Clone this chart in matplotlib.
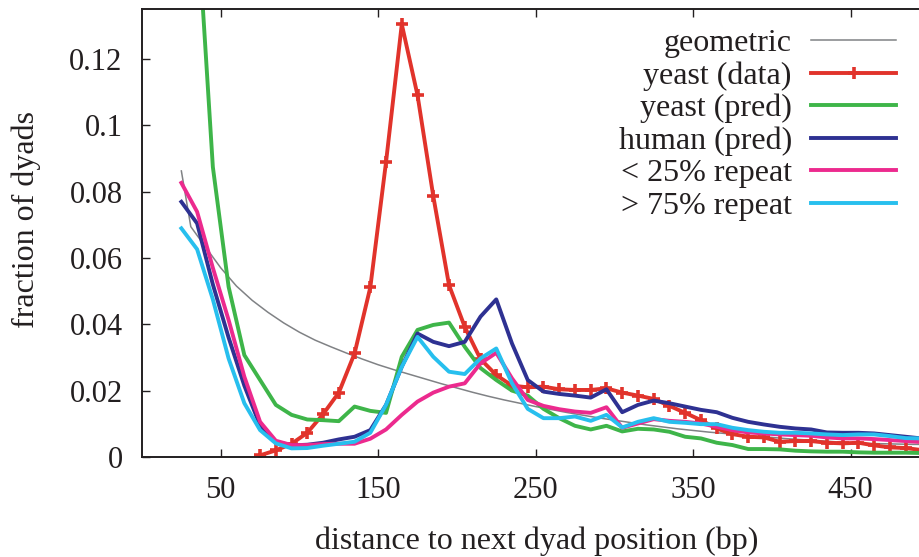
import numpy as np
import matplotlib
matplotlib.use("Agg")
import matplotlib.pyplot as plt

plt.rcParams['font.family'] = ['Liberation Serif', 'DejaVu Serif']

# distance bins (bp)
dist = list(range(25, 500, 10))
dist_red = list(range(75, 500, 10))

# geometric reference curve, own sampling
geo_x = [25, 31, 40, 50, 60, 70, 80, 90, 100, 110, 120, 130, 140, 150, 160,
         170, 180, 190, 200, 210, 220, 230, 240, 250, 260, 270, 280, 290, 300,
         310, 320, 330, 340, 350, 360, 370, 380, 390, 400, 410, 420, 430, 440,
         450, 460, 470, 480, 490, 495]
geo_y = [0.0862, 0.0694, 0.0635, 0.0570, 0.0515, 0.0472, 0.0436, 0.0404, 0.0376,
         0.0352, 0.0332, 0.0313, 0.0295, 0.0278, 0.0263, 0.0249, 0.0235, 0.0221,
         0.0208, 0.0195, 0.0183, 0.0172, 0.0162, 0.0152, 0.0143, 0.0134, 0.0126,
         0.0118, 0.0111, 0.0104, 0.0097, 0.0091, 0.0085, 0.0080, 0.0075, 0.0071,
         0.0066, 0.0062, 0.0059, 0.0055, 0.0052, 0.0049, 0.0046, 0.0043, 0.0041,
         0.0040, 0.0039, 0.0038, 0.0038]

yeast_data = [0.0005, 0.0020, 0.0040, 0.0073, 0.0129, 0.0194, 0.0312, 0.0511,
              0.0889, 0.1304, 0.1090, 0.0786, 0.0518, 0.0392, 0.0295, 0.0247,
              0.0215, 0.0210, 0.0212, 0.0204, 0.0202, 0.0202, 0.0207, 0.0194,
              0.0185, 0.0175, 0.0154, 0.0133, 0.0111, 0.0086, 0.0069, 0.0061,
              0.0059, 0.0046, 0.0048, 0.0048, 0.0043, 0.0041, 0.0043, 0.0035,
              0.0029, 0.0027, 0.0021]

yeast_pred = [0.2600, 0.1630, 0.0874, 0.0513, 0.0307, 0.0232, 0.0157, 0.0127,
              0.0113, 0.0111, 0.0108, 0.0152, 0.0139, 0.0133, 0.0302, 0.0383,
              0.0398, 0.0405, 0.0332, 0.0268, 0.0232, 0.0200, 0.0185, 0.0145,
              0.0117, 0.0094, 0.0083, 0.0094, 0.0077, 0.0085, 0.0083, 0.0076,
              0.0061, 0.0056, 0.0043, 0.0036, 0.0024, 0.0024, 0.0023, 0.0019,
              0.0017, 0.0016, 0.0016, 0.0014, 0.0013, 0.0013, 0.0013, 0.0012]

human_pred = [0.0769, 0.0704, 0.0520, 0.0360, 0.0215, 0.0095, 0.0046, 0.0035,
              0.0037, 0.0043, 0.0053, 0.0061, 0.0081, 0.0157, 0.0272, 0.0372,
              0.0347, 0.0334, 0.0347, 0.0423, 0.0475, 0.0342, 0.0232, 0.0197,
              0.0190, 0.0185, 0.0179, 0.0204, 0.0135, 0.0157, 0.0170, 0.0162,
              0.0152, 0.0142, 0.0135, 0.0118, 0.0106, 0.0098, 0.0091, 0.0086,
              0.0083, 0.0074, 0.0073, 0.0073, 0.0071, 0.0066, 0.0061, 0.0056]

low_repeat = [0.0826, 0.0739, 0.0570, 0.0413, 0.0242, 0.0106, 0.0049, 0.0036,
              0.0036, 0.0039, 0.0040, 0.0040, 0.0055, 0.0083, 0.0127, 0.0167,
              0.0194, 0.0212, 0.0222, 0.0282, 0.0314, 0.0237, 0.0172, 0.0154,
              0.0144, 0.0137, 0.0133, 0.0150, 0.0088, 0.0101, 0.0114, 0.0109,
              0.0106, 0.0101, 0.0091, 0.0081, 0.0074, 0.0071, 0.0068, 0.0066,
              0.0064, 0.0059, 0.0056, 0.0056, 0.0054, 0.0051, 0.0048, 0.0045]

high_repeat = [0.0689, 0.0626, 0.0475, 0.0297, 0.0162, 0.0081, 0.0041, 0.0026,
               0.0027, 0.0034, 0.0040, 0.0046, 0.0073, 0.0157, 0.0272, 0.0362,
               0.0302, 0.0257, 0.0250, 0.0297, 0.0327, 0.0222, 0.0145, 0.0117,
               0.0117, 0.0122, 0.0109, 0.0127, 0.0089, 0.0106, 0.0117, 0.0106,
               0.0103, 0.0099, 0.0099, 0.0088, 0.0081, 0.0076, 0.0073, 0.0073,
               0.0071, 0.0068, 0.0066, 0.0068, 0.0068, 0.0063, 0.0057, 0.0056]

xticks = [50, 150, 250, 350, 450]
yticks = [0, 0.02, 0.04, 0.06, 0.08, 0.1, 0.12]
ytick_labels = ["0", "0.02", "0.04", "0.06", "0.08", "0.1", "0.12"]

fig = plt.figure(figsize=(9.19, 5.57), dpi=100)
ax = fig.add_axes([142 / 919, 1 - 457 / 557, 1 - 142 / 919, (457 - 9) / 557])

lw = 2.8
ax.plot(geo_x, geo_y, color="#808285", lw=1.1, label="geometric")
ax.plot(dist_red, yeast_data, color="#E1332B", lw=lw, marker="+", ms=8, mew=2.6,
        label="yeast (data)")
ax.plot(dist, yeast_pred, color="#3EB549", lw=lw, label="yeast (pred)")
ax.plot(dist, human_pred, color="#2E3192", lw=lw, label="human (pred)")
ax.plot(dist, low_repeat, color="#EC2A8E", lw=lw, label="< 25% repeat")
ax.plot(dist, high_repeat, color="#27BFEE", lw=lw, label="> 75% repeat")

ax.set_xlim(0, 493.5)
ax.set_ylim(0, 0.135)
ax.set_xticks(xticks)
ax.set_yticks(yticks)
ax.set_yticklabels(ytick_labels)
ax.tick_params(axis="both", direction="in", length=6, width=1.0,
               labelsize=22, pad=14, colors="#231F20")
ax.tick_params(axis="x", top=True)
for side in ["left", "bottom", "top"]:
    ax.spines[side].set_linewidth(1.4)
    ax.spines[side].set_color("#231F20")
ax.spines["right"].set_visible(False)

ax.set_xlabel("distance to next dyad position (bp)", fontsize=23, color="#231F20")
ax.set_ylabel("fraction of dyads", fontsize=23, color="#231F20")
ax.xaxis.set_label_coords(0.5077, -0.155)
ax.yaxis.set_label_coords(-0.13, 0.53)

leg = ax.legend(loc="upper right", bbox_to_anchor=(896 / 919, 1 - 29 / 557),
                bbox_transform=fig.transFigure, frameon=False, fontsize=23,
                markerfirst=False, handlelength=2.66, handletextpad=0.6,
                labelspacing=0.095, borderpad=0, borderaxespad=0)
for t in leg.get_texts():
    t.set_color("#231F20")

fig.savefig("out.png", dpi=100)
